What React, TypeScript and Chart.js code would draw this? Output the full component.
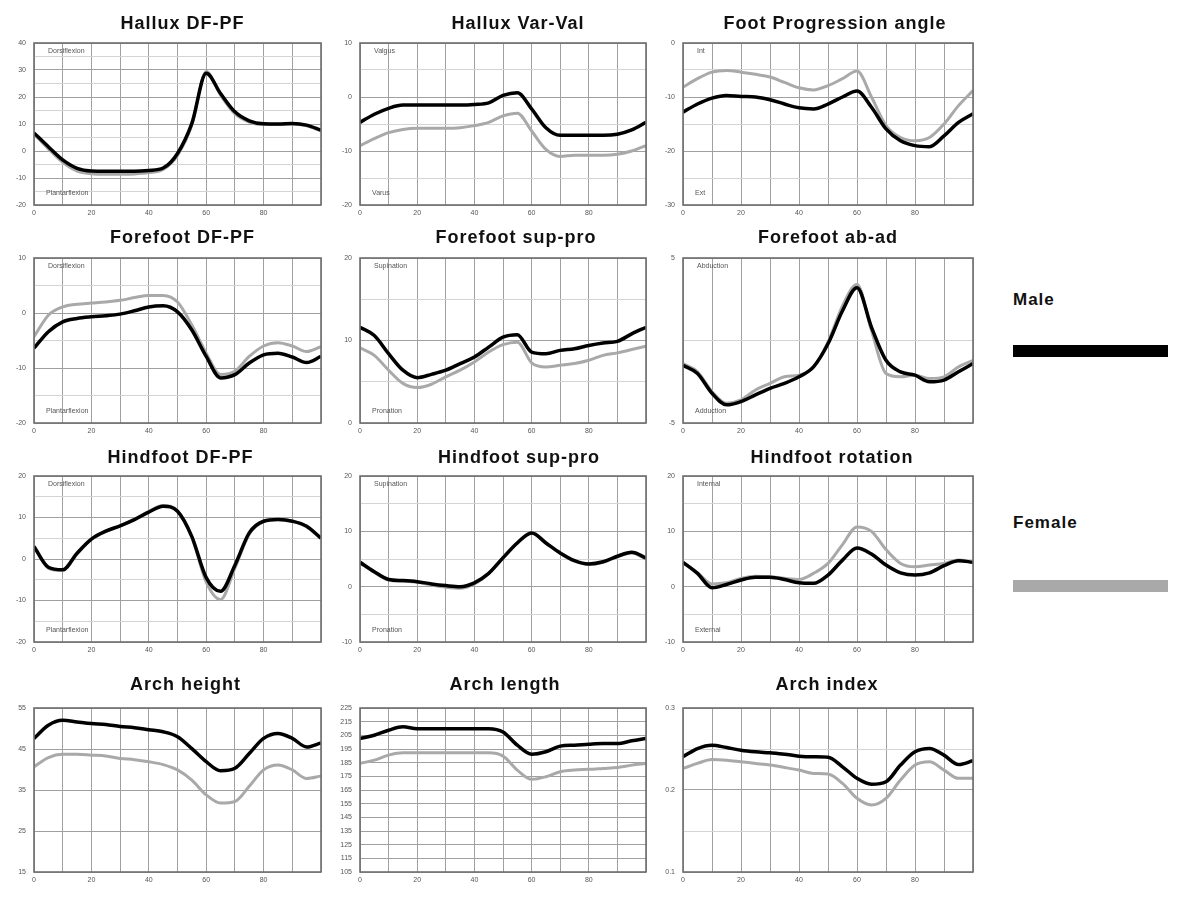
import React, { useEffect, useRef } from "react";
import { Chart, registerables } from "chart.js";

Chart.register(...registerables);

// ---------- data ----------
const GAIT_CYCLE = [0, 5, 10, 15, 20, 25, 30, 35, 40, 45, 50, 55, 60, 65, 70, 75, 80, 85, 90, 95, 100];
const X_TICK_LABELS = [0, 20, 40, 60, 80];

const HALLUX_DFPF_MALE = [6.7, 1.6, -3.3, -6.4, -7.4, -7.5, -7.5, -7.5, -7.2, -6.3, -0.9, 10.2, 28.8, 21.3, 14.5, 11.2, 10.1, 10.0, 10.2, 9.6, 7.7];
const HALLUX_DFPF_FEMALE = [6.3, 0.8, -4.2, -7.4, -8.4, -8.6, -8.6, -8.5, -8.0, -6.8, -1.6, 9.6, 29.4, 20.7, 13.8, 10.7, 9.8, 9.8, 10.0, 9.3, 7.4];
const HALLUX_DFPF_TICKS = [-20, -10, 0, 10, 20, 30, 40];

const HALLUX_VV_MALE = [-4.7, -3.2, -2.1, -1.5, -1.5, -1.5, -1.5, -1.5, -1.4, -1.1, 0.3, 0.8, -2.2, -5.7, -7.1, -7.1, -7.1, -7.1, -6.9, -6.1, -4.7];
const HALLUX_VV_FEMALE = [-9.0, -7.7, -6.6, -6.0, -5.8, -5.8, -5.8, -5.7, -5.3, -4.7, -3.5, -3.0, -6.3, -9.7, -11.0, -10.8, -10.8, -10.8, -10.6, -10.0, -9.0];
const HALLUX_VV_TICKS = [-20, -10, 0, 10];

const FPA_MALE = [-12.8, -11.3, -10.2, -9.7, -9.9, -10.0, -10.5, -11.3, -12.0, -12.2, -11.3, -10.0, -8.9, -11.9, -15.9, -18.1, -19.0, -19.2, -17.2, -14.7, -13.1];
const FPA_FEMALE = [-8.2, -6.6, -5.4, -5.1, -5.4, -5.8, -6.3, -7.3, -8.3, -8.7, -7.9, -6.6, -5.2, -10.0, -15.3, -17.5, -18.1, -17.5, -15.0, -11.6, -8.8];
const FPA_TICKS = [-30, -20, -10, 0];

const FF_DFPF_MALE = [-6.4, -3.4, -1.6, -1.0, -0.7, -0.5, -0.2, 0.4, 1.1, 1.3, 0.2, -3.1, -7.9, -11.8, -11.2, -9.1, -7.6, -7.3, -8.0, -9.0, -7.9];
const FF_DFPF_FEMALE = [-4.3, -0.4, 1.1, 1.6, 1.8, 2.0, 2.3, 2.8, 3.2, 3.2, 2.0, -2.2, -7.3, -11.2, -10.6, -7.9, -6.0, -5.4, -6.0, -7.0, -6.1];
const FF_DFPF_TICKS = [-20, -10, 0, 10];

const FF_SP_MALE = [11.6, 10.6, 8.4, 6.4, 5.5, 5.9, 6.4, 7.2, 8.0, 9.2, 10.4, 10.7, 8.6, 8.4, 8.8, 9.0, 9.4, 9.7, 9.9, 10.8, 11.6];
const FF_SP_FEMALE = [9.1, 8.2, 6.4, 4.8, 4.3, 4.7, 5.6, 6.4, 7.4, 8.6, 9.5, 9.8, 7.3, 6.8, 7.0, 7.2, 7.6, 8.2, 8.5, 8.9, 9.3];
const FF_SP_TICKS = [0, 10, 20];

const FF_AA_MALE = [-1.5, -2.0, -3.2, -3.9, -3.7, -3.3, -2.9, -2.6, -2.2, -1.6, -0.2, 1.8, 3.2, 0.8, -1.2, -1.9, -2.1, -2.5, -2.4, -1.9, -1.4];
const FF_AA_FEMALE = [-1.4, -1.9, -3.1, -3.8, -3.6, -3.0, -2.6, -2.2, -2.1, -1.6, -0.1, 2.1, 3.4, 0.6, -2.0, -2.2, -2.1, -2.3, -2.2, -1.6, -1.2];
const FF_AA_TICKS = [-5, 5];

const HF_DFPF_MALE = [3.0, -2.0, -2.6, 1.4, 4.8, 6.7, 8.0, 9.5, 11.3, 12.7, 11.5, 5.4, -4.5, -7.8, -1.5, 6.3, 9.1, 9.5, 9.1, 7.9, 5.0];
const HF_DFPF_FEMALE = [3.0, -2.2, -2.8, 1.2, 4.8, 6.6, 8.0, 9.6, 11.5, 12.9, 11.6, 5.2, -5.6, -9.8, -2.2, 6.0, 9.0, 9.6, 9.2, 7.8, 5.0];
const HF_DFPF_TICKS = [-20, -10, 0, 10, 20];

const HF_SP_MALE = [4.4, 2.7, 1.3, 1.1, 0.9, 0.5, 0.2, 0.0, 0.7, 2.4, 5.2, 7.9, 9.7, 7.9, 6.1, 4.7, 4.1, 4.5, 5.5, 6.2, 5.2];
const HF_SP_FEMALE = [4.3, 2.6, 1.2, 1.0, 0.8, 0.3, -0.1, -0.3, 0.5, 2.4, 5.3, 8.0, 9.8, 8.0, 6.0, 4.6, 4.0, 4.4, 5.4, 6.1, 5.0];
const HF_SP_TICKS = [-10, 0, 10, 20];

const HF_ROT_MALE = [4.4, 2.4, -0.2, 0.4, 1.2, 1.7, 1.7, 1.3, 0.7, 0.6, 2.1, 4.8, 7.0, 5.9, 3.9, 2.5, 2.1, 2.5, 3.8, 4.7, 4.4];
const HF_ROT_FEMALE = [4.4, 2.5, 0.5, 0.7, 1.5, 1.9, 1.8, 1.5, 1.3, 2.4, 4.2, 7.6, 10.8, 10.0, 6.7, 4.2, 3.6, 3.9, 4.2, 4.8, 4.4];
const HF_ROT_TICKS = [-10, 0, 10, 20];

const ARCH_H_MALE = [47.6, 50.8, 52.0, 51.6, 51.2, 51.0, 50.5, 50.2, 49.7, 49.2, 48.0, 45.1, 41.9, 39.7, 40.3, 43.9, 47.6, 48.8, 47.6, 45.5, 46.5];
const ARCH_H_FEMALE = [40.7, 42.9, 43.7, 43.7, 43.5, 43.3, 42.7, 42.4, 41.9, 41.2, 39.9, 37.4, 33.8, 31.8, 32.2, 35.9, 39.9, 41.1, 39.9, 37.8, 38.4];
const ARCH_H_TICKS = [15, 25, 35, 45, 55];

const ARCH_L_MALE = [202.7, 205.1, 208.7, 211.2, 209.9, 209.9, 209.9, 209.9, 209.9, 209.9, 207.5, 197.8, 191.2, 193.0, 197.1, 197.8, 198.5, 199.0, 199.0, 201.0, 202.7];
const ARCH_L_FEMALE = [184.4, 186.9, 190.5, 192.2, 192.2, 192.2, 192.2, 192.2, 192.2, 192.2, 189.8, 179.6, 172.8, 174.7, 178.4, 179.6, 180.1, 180.8, 181.5, 183.2, 184.4];
const ARCH_L_TICKS = [105, 115, 125, 135, 145, 155, 165, 175, 185, 195, 205, 215, 225];

const ARCH_IDX_MALE = [0.2405, 0.2506, 0.2547, 0.2518, 0.2486, 0.2466, 0.2453, 0.2437, 0.2413, 0.2405, 0.24, 0.2283, 0.2142, 0.207, 0.21, 0.2304, 0.2466, 0.2506, 0.2425, 0.231, 0.2356];
const ARCH_IDX_FEMALE = [0.2263, 0.2324, 0.2372, 0.2364, 0.2344, 0.2324, 0.2304, 0.2275, 0.2243, 0.2202, 0.2194, 0.2081, 0.1899, 0.1818, 0.1899, 0.2121, 0.2304, 0.2344, 0.2243, 0.2142, 0.2142];
const ARCH_IDX_TICKS = [0.1, 0.2, 0.3];

type PanelDef = {
  title: string;
  male: number[];
  female: number[];
  ticks: number[];
  minor: number;
  top: string;
  bottom: string;
};

const PANELS: PanelDef[] = [
  { title: "Hallux DF-PF", male: HALLUX_DFPF_MALE, female: HALLUX_DFPF_FEMALE, ticks: HALLUX_DFPF_TICKS, minor: 5, top: "Dorsiflexion", bottom: "Plantarflexion" },
  { title: "Hallux Var-Val", male: HALLUX_VV_MALE, female: HALLUX_VV_FEMALE, ticks: HALLUX_VV_TICKS, minor: 5, top: "Valgus", bottom: "Varus" },
  { title: "Foot Progression angle", male: FPA_MALE, female: FPA_FEMALE, ticks: FPA_TICKS, minor: 5, top: "Int", bottom: "Ext" },
  { title: "Forefoot DF-PF", male: FF_DFPF_MALE, female: FF_DFPF_FEMALE, ticks: FF_DFPF_TICKS, minor: 5, top: "Dorsiflexion", bottom: "Plantarflexion" },
  { title: "Forefoot sup-pro", male: FF_SP_MALE, female: FF_SP_FEMALE, ticks: FF_SP_TICKS, minor: 5, top: "Supination", bottom: "Pronation" },
  { title: "Forefoot ab-ad", male: FF_AA_MALE, female: FF_AA_FEMALE, ticks: FF_AA_TICKS, minor: 5, top: "Abduction", bottom: "Adduction" },
  { title: "Hindfoot DF-PF", male: HF_DFPF_MALE, female: HF_DFPF_FEMALE, ticks: HF_DFPF_TICKS, minor: 5, top: "Dorsiflexion", bottom: "Plantarflexion" },
  { title: "Hindfoot sup-pro", male: HF_SP_MALE, female: HF_SP_FEMALE, ticks: HF_SP_TICKS, minor: 5, top: "Supination", bottom: "Pronation" },
  { title: "Hindfoot rotation", male: HF_ROT_MALE, female: HF_ROT_FEMALE, ticks: HF_ROT_TICKS, minor: 5, top: "Internal", bottom: "External" },
  { title: "Arch height", male: ARCH_H_MALE, female: ARCH_H_FEMALE, ticks: ARCH_H_TICKS, minor: 10, top: "", bottom: "" },
  { title: "Arch length", male: ARCH_L_MALE, female: ARCH_L_FEMALE, ticks: ARCH_L_TICKS, minor: 10, top: "", bottom: "" },
  { title: "Arch index", male: ARCH_IDX_MALE, female: ARCH_IDX_FEMALE, ticks: ARCH_IDX_TICKS, minor: 0.05, top: "", bottom: "" },
];

// ---------- layout ----------
const COL_LEFT = [34, 360, 683];
const COL_RIGHT = [321, 646, 973];
const ROW_TOP = [43, 258, 476, 708];
const ROW_BOTTOM = [205, 423, 642, 872];
const TITLE_DX = [5, 15, 7, 5, 13, 0, 3, 16, 4, 8, 2, -1];
const TITLE_DY = [-19, -20, -18, -23];
const PAD_TOP = 36;
const PAD_RIGHT = 24;
const AXIS_W = 34;
const AXIS_H = 22;
const FONT = '"Liberation Sans", Arial, Helvetica, sans-serif';

function Panel({ def, index }: { def: PanelDef; index: number }) {
  const ref = useRef<HTMLCanvasElement>(null);
  const col = index % 3;
  const row = Math.floor(index / 3);
  const plotW = COL_RIGHT[col] - COL_LEFT[col];
  const plotH = ROW_BOTTOM[row] - ROW_TOP[row];
  const W = plotW + AXIS_W + PAD_RIGHT;
  const H = plotH + PAD_TOP + AXIS_H;
  const left = COL_LEFT[col] - AXIS_W;
  const top = ROW_TOP[row] - PAD_TOP;

  useEffect(() => {
    if (!ref.current) return;
    const yMin = def.ticks[0];
    const yMax = def.ticks[def.ticks.length - 1];
    const isMajor = (v: number) => def.ticks.some((t) => Math.abs(t - v) < 1e-6);
    const pts = (arr: number[]) => GAIT_CYCLE.map((x, i) => ({ x, y: arr[i] }));

    const panelPlugin = {
      id: "panelDecor",
      afterDraw(chart: any) {
        const { ctx, chartArea } = chart;
        const a = chartArea;
        ctx.save();
        ctx.strokeStyle = "#6e6e6e";
        ctx.lineWidth = 1.6;
        ctx.strokeRect(a.left, a.top, a.right - a.left, a.bottom - a.top);
        // title
        ctx.fillStyle = "#111";
        ctx.font = `bold 18px ${FONT}`;
        try { (ctx as any).letterSpacing = "1px"; } catch (e) {}
        ctx.textAlign = "center";
        ctx.textBaseline = "middle";
        ctx.fillText(def.title, (a.left + a.right) / 2 + TITLE_DX[index], a.top + TITLE_DY[row]);
        try { (ctx as any).letterSpacing = "0px"; } catch (e) {}
        // notes
        ctx.font = `7px ${FONT}`;
        ctx.fillStyle = "#555";
        ctx.textAlign = "left";
        if (def.top) ctx.fillText(def.top, a.left + 14, a.top + 8);
        if (def.bottom) ctx.fillText(def.bottom, a.left + 12, a.bottom - 12);
        ctx.restore();
      },
    };

    const chart = new Chart(ref.current, {
      type: "line",
      data: {
        datasets: [
          {
            label: "Male",
            data: pts(def.male),
            borderColor: "#000000",
            borderWidth: 3.5,
            pointRadius: 0,
            cubicInterpolationMode: "monotone",
            order: 0,
          },
          {
            label: "Female",
            data: pts(def.female),
            borderColor: "#a9a9a9",
            borderWidth: 3,
            pointRadius: 0,
            cubicInterpolationMode: "monotone",
            order: 1,
          },
        ],
      },
      options: {
        responsive: false,
        animation: false,
        devicePixelRatio: 1,
        layout: { padding: { top: PAD_TOP, right: PAD_RIGHT, left: 0, bottom: 0 } },
        plugins: {
          legend: { display: false },
          title: { display: false },
          tooltip: { enabled: false },
        },
        scales: {
          x: {
            type: "linear",
            min: 0,
            max: 100,
            afterFit: (s: any) => { s.height = AXIS_H; },
            ticks: {
              stepSize: 10,
              autoSkip: false,
              maxRotation: 0,
              padding: 4,
              color: "#555",
              font: { size: 7, family: FONT },
              callback: (v: any) => (X_TICK_LABELS.includes(Number(v)) ? String(v) : ""),
            },
            grid: { color: "#a0a0a0", lineWidth: 1, drawTicks: false },
            border: { display: false },
          },
          y: {
            type: "linear",
            min: yMin,
            max: yMax,
            afterFit: (s: any) => { s.width = AXIS_W; },
            ticks: {
              stepSize: def.minor,
              autoSkip: false,
              padding: 8,
              color: "#555",
              font: { size: 7, family: FONT },
              callback: (v: any) => (isMajor(Number(v)) ? String(Math.round(Number(v) * 100) / 100) : ""),
            },
            grid: {
              color: (c: any) => (c.tick && isMajor(c.tick.value) ? "#a0a0a0" : "#d4d4d4"),
              lineWidth: 1,
              drawTicks: false,
            },
            border: { display: false },
          },
        },
      },
      plugins: [panelPlugin],
    } as any);
    return () => chart.destroy();
  }, [def, index]);

  return (
    <canvas
      ref={ref}
      width={W}
      height={H}
      style={{ position: "absolute", left, top, width: W, height: H }}
    />
  );
}

export default function App() {
  return (
    <div style={{ position: "fixed", left: 0, top: 0, width: 1200, height: 907, background: "#fff", overflow: "hidden" }}>
      {PANELS.map((p, i) => (
        <Panel key={p.title} def={p} index={i} />
      ))}
      <div style={{ position: "absolute", left: 1013, top: 289, font: `bold 17px ${FONT}`, letterSpacing: "1px", lineHeight: "22px", color: "#111" }}>Male</div>
      <div style={{ position: "absolute", left: 1013, top: 345, width: 155, height: 12, background: "#000" }} />
      <div style={{ position: "absolute", left: 1013, top: 512, font: `bold 17px ${FONT}`, letterSpacing: "1px", lineHeight: "22px", color: "#111" }}>Female</div>
      <div style={{ position: "absolute", left: 1013, top: 580, width: 155, height: 12, background: "#a9a9a9" }} />
    </div>
  );
}
